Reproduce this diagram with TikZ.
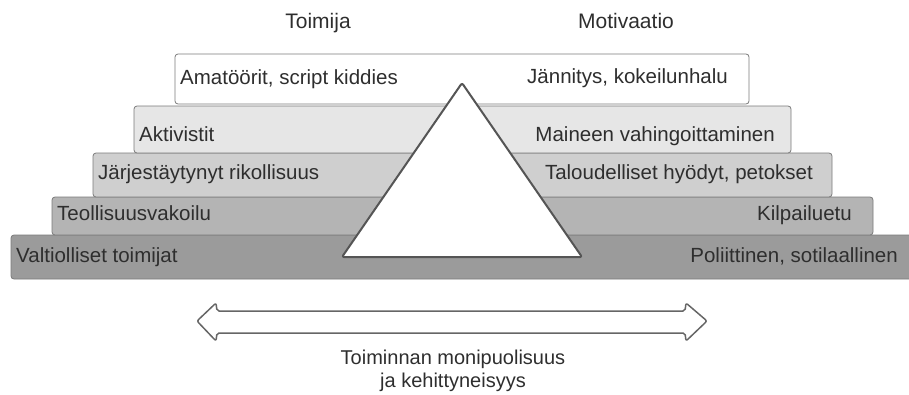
\documentclass[tikz,border=0pt]{standalone}
\usepackage{fontspec}
\setmainfont{Liberation Sans}
\definecolor{txt}{HTML}{2E2E2E}
\definecolor{edge}{HTML}{7A7A7A}
\definecolor{fa}{HTML}{FFFFFF}
\definecolor{fb}{HTML}{E6E6E6}
\definecolor{fc}{HTML}{CFCFCF}
\definecolor{fd}{HTML}{B4B4B4}
\definecolor{fe}{HTML}{9B9B9B}
\definecolor{tri}{HTML}{555555}
\begin{document}
\begin{tikzpicture}[x=1pt,y=-1pt,
  bar/.style={draw=edge,line width=0.8pt,rounded corners=3pt},
  lbl/.style={inner sep=0pt,text=txt,font=\fontsize{20.5}{24}\selectfont},
  lft/.style={lbl,anchor=base west},
  rgt/.style={lbl,anchor=base east}]
\useasboundingbox (0,0) rectangle (909,394);
% bars
\draw[bar,fill=fe] (11,235) rectangle (915,279);
\draw[bar,fill=fd] (52,197) rectangle (873,235);
\draw[bar,fill=fc] (93,153) rectangle (832,197);
\draw[bar,fill=fb] (134,106) rectangle (791,153);
\draw[bar,fill=fa] (175,54) rectangle (749,104);
% triangle
\draw[draw=tri,fill=white,line width=2pt,rounded corners=2pt,line join=round]
  (342,257) -- (462,83) -- (582,257) -- cycle;
% headings
\node[lbl,anchor=base,font=\fontsize{21}{24}\selectfont] (h1) at (318,28) {Toimija};
\node[lbl,anchor=base,font=\fontsize{21}{24}\selectfont] (h2) at (626,28) {Motivaatio};
% left texts
\node[lft] (a1) at (180,84) {Amatöörit, script kiddies};
\node[lft] (a2) at (139,141) {Aktivistit};
\node[lft] (a3) at (98,179) {Järjestäytynyt rikollisuus};
\node[lft] (a4) at (57,220) {Teollisuusvakoilu};
\node[lft] (a5) at (16,262) {Valtiolliset toimijat};
% right texts
\node[rgt] (m1) at (728,83) {Jännitys, kokeilunhalu};
\node[rgt] (m2) at (775,141) {Maineen vahingoittaminen};
\node[rgt] (m3) at (813,179) {Taloudelliset hyödyt, petokset};
\node[rgt] (m4) at (852,220) {Kilpailuetu};
\node[rgt] (m5) at (898,262) {Poliittinen, sotilaallinen};
% double arrow
\draw[draw=tri!90,fill=white,line width=1.5pt,rounded corners=2pt,line join=round]
  (197,321) -- (216,303) -- (217,311) -- (685,311) -- (686,303) -- (707,321)
  -- (686,341) -- (685,333) -- (217,333) -- (216,341) -- cycle;
% bottom caption
\node[lbl,anchor=base,font=\fontsize{20}{24}\selectfont] (cap) at (453,364) {Toiminnan monipuolisuus};
\node[lbl,anchor=base,font=\fontsize{20}{24}\selectfont] (cap2) at (453,387) {ja kehittyneisyys};
\end{tikzpicture}
\end{document}
